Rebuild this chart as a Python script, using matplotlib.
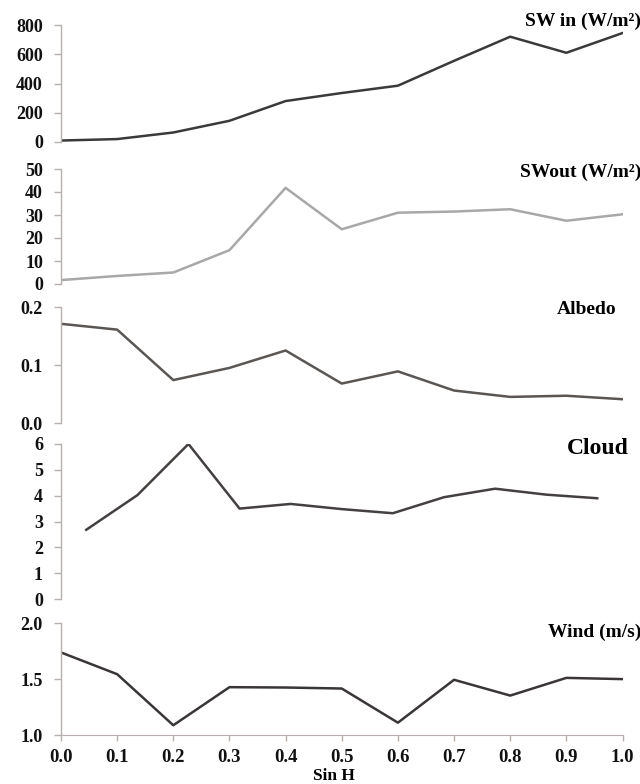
import numpy as np
from matplotlib import pyplot as plt

## DATA
sin_h = [0.0, 0.1, 0.2, 0.3, 0.4, 0.5, 0.6, 0.7, 0.8, 0.9, 1.0]
sw_in = [10, 20, 65, 145, 280, 335, 385, 555, 720, 610, 745]
sw_out = [1.7, 3.5, 5.0, 14.7, 41.8, 23.8, 31.0, 31.5, 32.5, 27.5, 30.3]
albedo = [0.171, 0.161, 0.074, 0.095, 0.125, 0.068, 0.089, 0.056, 0.045, 0.047, 0.041]
cloud_x = [0.045, 0.136, 0.227, 0.318, 0.409, 0.5, 0.591, 0.682, 0.773, 0.864, 0.955]
cloud = [2.68, 4.02, 6.0, 3.5, 3.68, 3.48, 3.32, 3.94, 4.27, 4.04, 3.9]
wind = [1.737, 1.543, 1.087, 1.427, 1.424, 1.415, 1.110, 1.493, 1.352, 1.510, 1.499]
x_ticks = [0.0, 0.1, 0.2, 0.3, 0.4, 0.5, 0.6, 0.7, 0.8, 0.9, 1.0]
## END DATA

plt.rcParams['font.family'] = ['Liberation Serif', 'DejaVu Serif']
plt.rcParams['font.weight'] = 'bold'

W, H = 640, 784
fig = plt.figure(figsize=(W/100, H/100), dpi=100)

spine_col = '#b8b0ac'
tick_size = 13
title_size = 14

def make_ax(top_px, bot_px):
    ax = fig.add_axes([61/W, 1 - bot_px/H, 561.5/W, (bot_px - top_px)/H])
    for s in ['top', 'right', 'bottom']:
        ax.spines[s].set_visible(False)
    ax.spines['left'].set_color(spine_col)
    ax.spines['left'].set_linewidth(1.0)
    ax.tick_params(axis='y', colors=spine_col, labelcolor='#111111', length=5,
                   width=1.0, labelsize=tick_size, pad=8)
    ax.set_xlim(0, 1.0)
    ax.set_xticks([])
    ax.patch.set_alpha(0)
    return ax

# SW in
ax1 = make_ax(25, 142)
ax1.plot(sin_h, sw_in, color='#3a3a3a', lw=1.8)
ax1.set_ylim(0, 800)
ax1.set_yticks(range(0, 801, 200))

# SW out
ax2 = make_ax(169, 284)
ax2.plot(sin_h, sw_out, color='#a8a8a8', lw=1.8)
ax2.set_ylim(0, 50)
ax2.set_yticks(range(0, 51, 10))

# Albedo
ax3 = make_ax(307, 423)
ax3.plot(sin_h, albedo, color='#5a5654', lw=1.8)
ax3.set_ylim(0, 0.2)
ax3.set_yticks([0.0, 0.1, 0.2])
ax3.set_yticklabels(['0.0', '0.1', '0.2'])

# Cloud
ax4 = make_ax(444, 599)
ax4.plot(cloud_x, cloud, color='#444040', lw=1.8)
ax4.set_ylim(0, 6)
ax4.set_yticks(range(0, 7))

# Wind
ax5 = make_ax(623, 735)
ax5.plot(sin_h, wind, color='#3a3636', lw=1.8)
ax5.set_ylim(1.0, 2.0)
ax5.set_yticks([1.0, 1.5, 2.0])
ax5.set_yticklabels(['1.0', '1.5', '2.0'])
ax5.spines['bottom'].set_visible(True)
ax5.spines['bottom'].set_color(spine_col)
ax5.set_xticks(x_ticks)
ax5.set_xticklabels(['%.1f' % t for t in x_ticks])
ax5.tick_params(axis='x', colors=spine_col, labelcolor='#111111', length=4,
                width=1.0, labelsize=13.5, pad=6)

# x axis title at the bottom edge
fig.text(334/W, 0.5/H, 'Sin H', ha='center', va='bottom', fontsize=12.5, fontweight='bold')

# panel titles
fig.text(641/W, 1 - 21/H, 'SW in (W/m²)', ha='right', va='center', fontsize=title_size, fontweight='bold')
fig.text(641/W, 1 - 172/H, 'SWout (W/m²)', ha='right', va='center', fontsize=title_size, fontweight='bold')
fig.text(616/W, 1 - 310/H, 'Albedo', ha='right', va='center', fontsize=title_size, fontweight='bold')
fig.text(629/W, 1 - 449/H, 'Cloud', ha='right', va='center', fontsize=17, fontweight='bold')
fig.text(641/W, 1 - 632/H, 'Wind (m/s)', ha='right', va='center', fontsize=title_size, fontweight='bold')

plt.savefig('out.png', dpi=100)
